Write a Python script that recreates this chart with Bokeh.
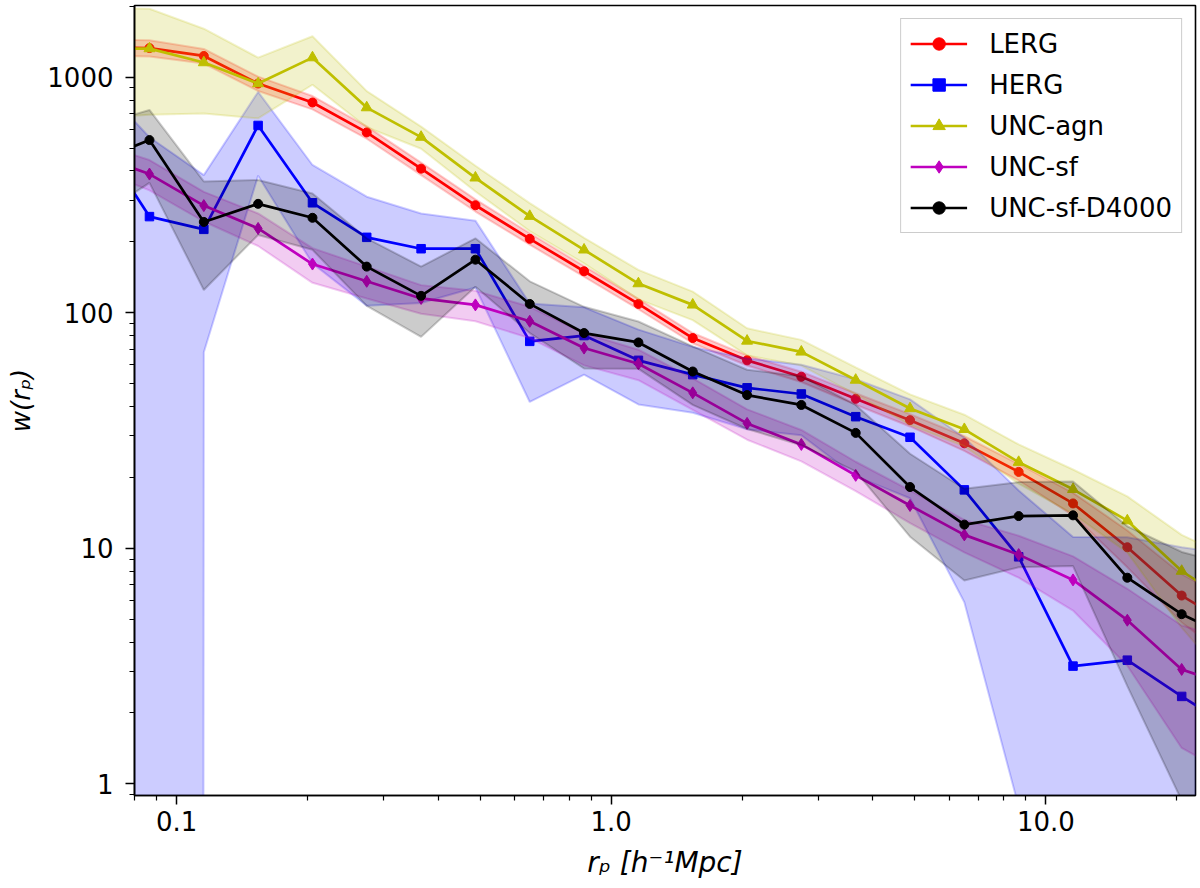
import numpy as np
from bokeh.plotting import figure
from bokeh.models import Range1d, FixedTicker, CustomJSTickFormatter, Legend, LegendItem
from bokeh.embed import file_html
from bokeh.resources import INLINE

# projected separation r_p [h^-1 Mpc]
rp = [0.0649, 0.0866, 0.1155, 0.1540, 0.2054, 0.2738, 0.3652, 0.4870, 0.6494, 0.8660,
      1.155, 1.540, 2.054, 2.738, 3.652, 4.870, 6.494, 8.660, 11.55, 15.40, 20.54, 27.38]

# w(r_p) and 1-sigma errors for each sample
lerg_w = [1340, 1330, 1231, 940, 781, 583, 409, 286, 206, 150, 109, 78.1, 62.8, 53.5,
          43.1, 35.0, 27.9, 21.1, 15.5, 10.1, 6.3, 4.56]
lerg_err = [110, 105, 88, 66, 51, 35, 25, 17, 11.5, 7.8, 5.5, 3.9, 3.1, 2.7,
            2.4, 2.1, 2.0, 1.7, 1.7, 1.8, 1.46, 1.3]

herg_w = [582, 256, 226, 624, 293, 209, 187, 187, 75.6, 80.0, 62.8, 54.6, 48.0, 45.2,
          36.2, 29.6, 17.7, 9.2, 3.16, 3.35, 2.35, 1.68]
herg_err = [400, 300, 158, 242, 131, 102, 77, 59, 33.8, 25.4, 22, 17, 16, 15,
            16, 13.3, 11.8, 8.4, 8.0, 7.8, 7.75, 7.7]

agn_w = [1320, 1323, 1154, 940, 1211, 743, 557, 374, 257, 185, 133, 108, 75.9, 68.2,
         51.8, 39.2, 32.0, 23.2, 17.8, 13.1, 8.0, 5.7]
agn_err = [650, 630, 453, 271, 282, 130, 60, 47, 35, 23, 19, 15, 10, 8.5,
           6.8, 5.8, 4.9, 4.4, 3.8, 3.5, 3.4, 3.2]

sf_w = [469, 388, 285, 228, 161, 136, 115, 108, 92, 70.8, 60.7, 45.7, 33.9, 27.6,
        20.4, 15.2, 11.4, 9.4, 7.34, 4.95, 3.06, 2.56]
sf_err = [60, 57, 41, 36, 27, 21, 16, 16, 14, 11, 9, 7, 5, 4.2,
          2.9, 2.4, 1.8, 1.9, 1.9, 1.78, 1.64, 1.5]

d4000_w = [436, 541, 243, 290, 253, 157, 118, 168, 109, 82, 74.8, 56.3, 44.7, 40.6,
           30.9, 18.2, 12.6, 13.7, 13.8, 7.5, 5.25, 4.08]
d4000_err = [185, 185, 118, 76, 68, 50, 39, 39, 27, 24, 17, 15.7, 12.6, 13.2,
             9.7, 7.0, 5.3, 5.4, 5.4, 4.9, 4.4, 4.3]

labels = ["LERG", "HERG", "UNC-agn", "UNC-sf", "UNC-sf-D4000"]

x_major = [0.1, 1.0, 10.0]
x_minor = [0.08, 0.09, 0.2, 0.3, 0.4, 0.5, 0.6, 0.7, 0.8, 0.9,
           2, 3, 4, 5, 6, 7, 8, 9, 20]
y_major = [1, 10, 100, 1000]
y_minor = [0.9, 2, 3, 4, 5, 6, 7, 8, 9, 20, 30, 40, 50, 60, 70, 80, 90,
           200, 300, 400, 500, 600, 700, 800, 900, 2000]

x_title = "rₚ [h⁻¹Mpc]"
y_title = "w(rₚ)"

series = [
    (labels[0], lerg_w, lerg_err, "#ff0000", "circle", 9),
    (labels[1], herg_w, herg_err, "#0000ff", "square", 8.5),
    (labels[2], agn_w, agn_err, "#bfbf00", "triangle", 11),
    (labels[3], sf_w, sf_err, "#bf00bf", "diamond", 12),
    (labels[4], d4000_w, d4000_err, "#000000", "circle", 9),
]

p = figure(width=1200, height=888, x_axis_type="log", y_axis_type="log",
           x_range=Range1d(0.0800, 22.1), y_range=Range1d(0.892, 2016),
           output_backend="svg", toolbar_location=None,
           min_border_left=134, min_border_right=5, min_border_top=5, min_border_bottom=93)
p.xgrid.visible = False
p.ygrid.visible = False
p.outline_line_color = "black"
p.outline_line_width = 1.6
p.outline_line_alpha = 1.0
p.background_fill_color = "white"

x = np.array(rp)
items = []
for name, w, e, c, m, s in series:
    w = np.array(w, dtype=float)
    e = np.array(e, dtype=float)
    up = w + e
    lo = np.where(w - e > 0, w - e, 1e-300)
    xs = np.concatenate([x, x[::-1]])
    ys = np.concatenate([up, lo[::-1]])
    p.patch(xs, ys, fill_color=c, fill_alpha=0.2, line_color=c, line_alpha=0.2, line_width=2)
    lr = p.line(x, w, line_color=c, line_width=2.7)
    sr = p.scatter(x, w, marker=m, size=s, fill_color=c, line_color=c)
    items.append(LegendItem(label=name, renderers=[lr, sr]))

legend = Legend(items=items, location="top_right",
                label_text_font="DejaVu Sans", label_text_font_size="26px",
                label_text_color="black",
                glyph_width=57, glyph_height=31, label_height=31, label_standoff=22,
                spacing=10, padding=9, margin=13,
                border_line_color="#cccccc", border_line_width=1.5, border_line_alpha=1.0,
                background_fill_color="white", background_fill_alpha=0.8)
p.add_layout(legend)

p.xaxis.ticker = FixedTicker(ticks=x_major, minor_ticks=x_minor)
p.xaxis.formatter = CustomJSTickFormatter(code="return tick.toFixed(1);")
p.yaxis.ticker = FixedTicker(ticks=y_major, minor_ticks=y_minor)
p.yaxis.formatter = CustomJSTickFormatter(code="return tick.toFixed(0);")

p.xaxis.axis_label = x_title
p.yaxis.axis_label = y_title

for ax in (p.xaxis, p.yaxis):
    ax.major_label_text_font = "DejaVu Sans"
    ax.major_label_text_font_size = "26px"
    ax.major_label_text_color = "black"
    ax.axis_label_text_font = "DejaVu Sans"
    ax.axis_label_text_font_style = "italic"
    ax.axis_label_text_color = "black"
    ax.major_tick_out = 9
    ax.major_tick_in = 0
    ax.minor_tick_out = 5
    ax.minor_tick_in = 0
    ax.major_tick_line_width = 1.5
    ax.minor_tick_line_width = 1.2
    ax.major_tick_line_color = "black"
    ax.minor_tick_line_color = "black"
    ax.axis_line_width = 1.6
    ax.axis_line_color = "black"

p.xaxis.axis_label_text_font_size = "28px"
p.yaxis.axis_label_text_font_size = "26px"
p.xaxis.major_label_standoff = 6
p.xaxis.axis_label_standoff = 12
p.yaxis.major_label_standoff = 12
p.yaxis.axis_label_standoff = 8

open("out.html", "w").write(file_html(p, INLINE))
